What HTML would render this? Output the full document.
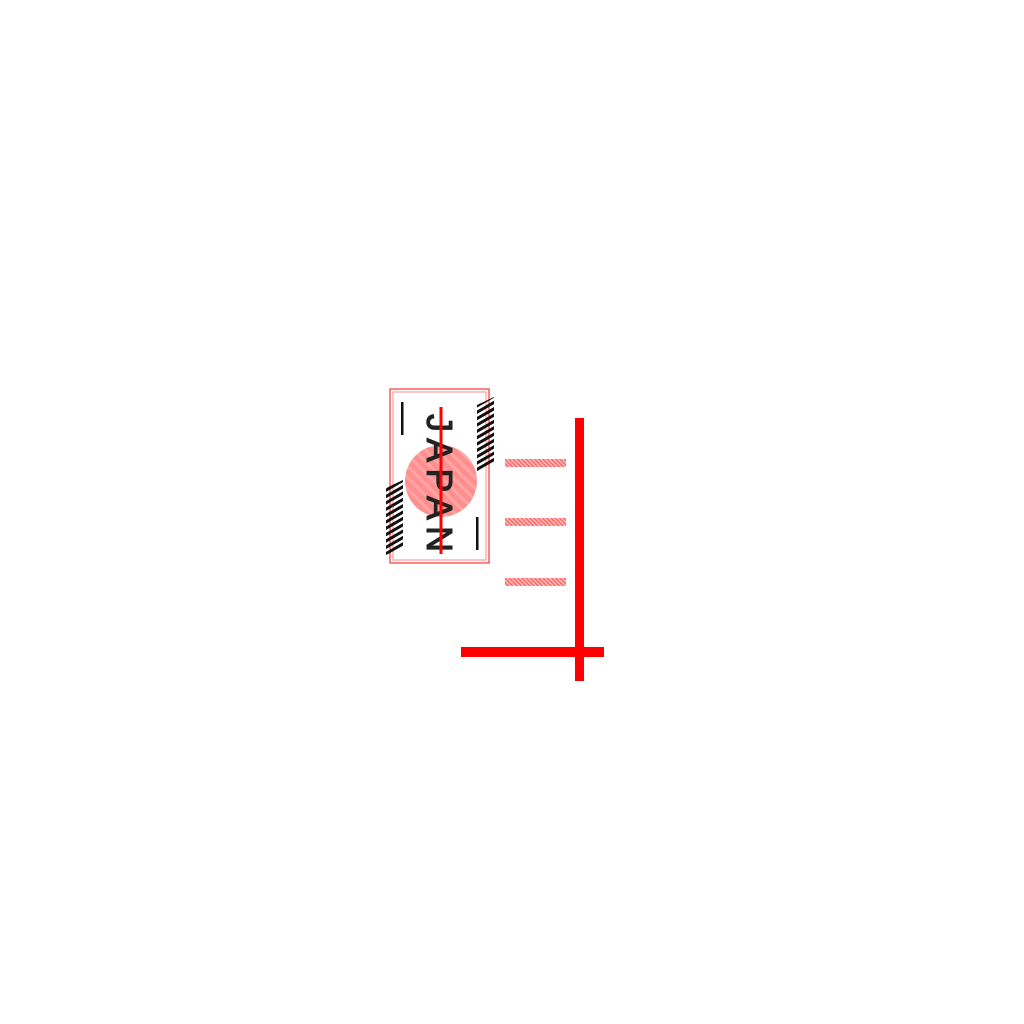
<!DOCTYPE html>
<html><head><meta charset="utf-8"><style>
html,body{margin:0;padding:0;background:#fff;width:1024px;height:1024px;overflow:hidden}
</style></head><body>
<svg width="1024" height="1024" viewBox="0 0 1024 1024" xmlns="http://www.w3.org/2000/svg">
<defs>
<pattern id="blk" width="5.5" height="5.5" patternUnits="userSpaceOnUse" patternTransform="rotate(-30)">
<rect width="5.5" height="3" fill="#111"/></pattern>
<pattern id="pk" width="3" height="3" patternUnits="userSpaceOnUse" patternTransform="rotate(45)">
<rect width="3" height="1.6" fill="#f66"/><rect y="1.6" width="3" height="1.4" fill="#fbb"/></pattern>
<pattern id="cp" width="8" height="8" patternUnits="userSpaceOnUse" patternTransform="rotate(45)">
<rect width="8" height="8" fill="#ff8f8f"/><rect width="8" height="3" fill="#ffa5a5"/></pattern>
</defs>
<rect x="390" y="389" width="99" height="174" fill="none" stroke="#f33" stroke-width="1.2"/>
<rect x="393" y="392" width="93" height="168" fill="none" stroke="#f88" stroke-width="1"/>
<circle cx="441" cy="481" r="36" fill="url(#cp)"/>
<polygon points="477,405 494,397 494,464 477,472" fill="url(#blk)"/>
<polygon points="386,488 403,480 403,547 386,555" fill="url(#blk)"/>
<rect x="401" y="402" width="2.5" height="33" fill="#111"/>
<rect x="476" y="517" width="2.5" height="33" fill="#111"/>
<text x="0" y="0" transform="translate(427,414) rotate(90)" font-family="Liberation Sans, sans-serif" font-size="36" textLength="138" lengthAdjust="spacing" fill="#222" stroke="#222" stroke-width="1">JAPAN</text>
<rect x="439.5" y="407" width="3" height="147" fill="#f00"/>
<rect x="505" y="459" width="61" height="8" fill="url(#pk)"/>
<rect x="505" y="518" width="61" height="8" fill="url(#pk)"/>
<rect x="505" y="578" width="61" height="8" fill="url(#pk)"/>
<rect x="575" y="418" width="9" height="263" fill="#f00"/>
<rect x="461" y="647" width="143" height="10" fill="#f00"/>
</svg>
</body></html>
